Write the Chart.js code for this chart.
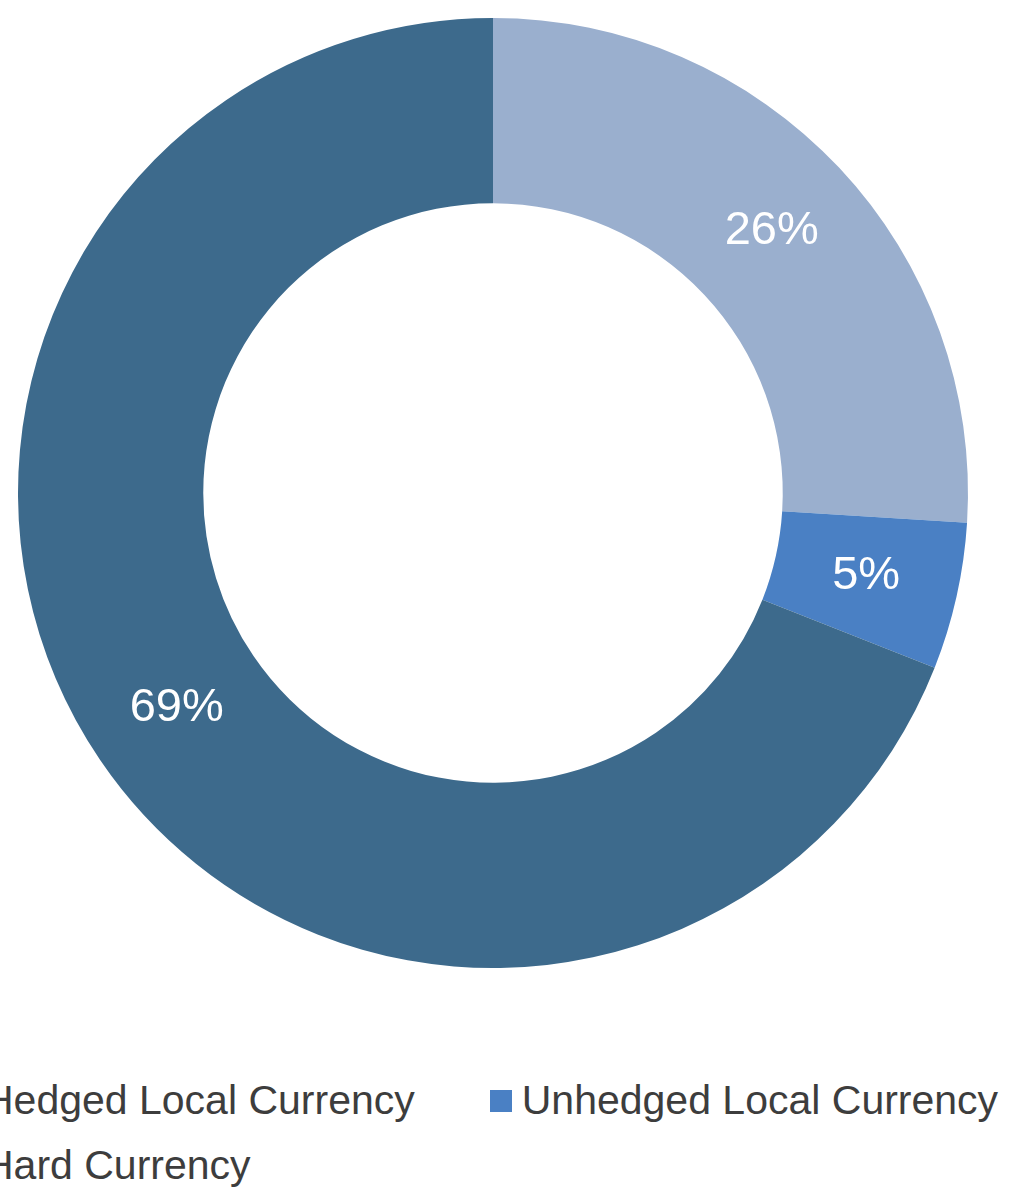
<!DOCTYPE html>
<html>
<head>
<meta charset="utf-8">
<script src="https://cdn.jsdelivr.net/npm/chart.js@4.4.0/dist/chart.umd.min.js"></script>
<style>
    html, body {
        margin: 0;
        padding: 0;
        background: #ffffff;
        overflow: hidden;
        width: 1021px;
        height: 1188px;
        font-family: "Liberation Sans", Arial, sans-serif;
    }
    #wrap {
        position: absolute;
        left: 0;
        top: 0;
        width: 986px;
        height: 986px;
    }
    #legend {
        position: absolute;
        left: -48px;
        top: 1077px;
        width: 1069px;
        display: flex;
        flex-wrap: wrap;
        column-gap: 75px;
        row-gap: 18px;
        font-size: 41px;
        color: #3d3d3d;
        line-height: 47px;
    }
    .item {
        display: flex;
        align-items: center;
        white-space: nowrap;
    }
    .box {
        width: 22px;
        height: 22px;
        margin-right: 10px;
    }
</style>
</head>
<body>
<div id="wrap"><canvas id="donut"></canvas></div>
<div id="legend"></div>

<script>
    const categories = ['Hedged Local Currency', 'Unhedged Local Currency', 'Hard Currency'];
    const shares = [26, 5, 69];
    const colors = ['#9aafce', '#4a80c4', '#3d6a8c'];

    // подписи процентов внутри сегментов
    const sliceLabels = {
        id: 'sliceLabels',
        afterDatasetsDraw(chart) {
            const ctx = chart.ctx;
            const meta = chart.getDatasetMeta(0);
            ctx.save();
            ctx.fillStyle = '#ffffff';
            ctx.font = '47px "Liberation Sans", Arial, sans-serif';
            ctx.textAlign = 'center';
            ctx.textBaseline = 'middle';
            meta.data.forEach((arc, i) => {
                const pos = arc.tooltipPosition();
                ctx.fillText(shares[i] + '%', pos.x, pos.y);
            });
            ctx.restore();
        }
    };

    const donut = new Chart(document.getElementById('donut').getContext('2d'), {
        type: 'doughnut',
        data: {
            labels: categories,
            datasets: [{
                data: shares,
                backgroundColor: colors,
                borderWidth: 0
            }]
        },
        options: {
            responsive: true,
            maintainAspectRatio: false,
            animation: false,
            cutout: '61%',
            layout: { padding: 18 },
            plugins: {
                legend: { display: false },
                tooltip: { enabled: false }
            }
        },
        plugins: [sliceLabels]
    });

    // легенда снизу
    const legend = document.getElementById('legend');
    categories.forEach((name, i) => {
        const item = document.createElement('div');
        item.className = 'item';
        const box = document.createElement('span');
        box.className = 'box';
        box.style.background = colors[i];
        const text = document.createElement('span');
        text.textContent = name;
        item.appendChild(box);
        item.appendChild(text);
        legend.appendChild(item);
    });
</script>
</body>
</html>
